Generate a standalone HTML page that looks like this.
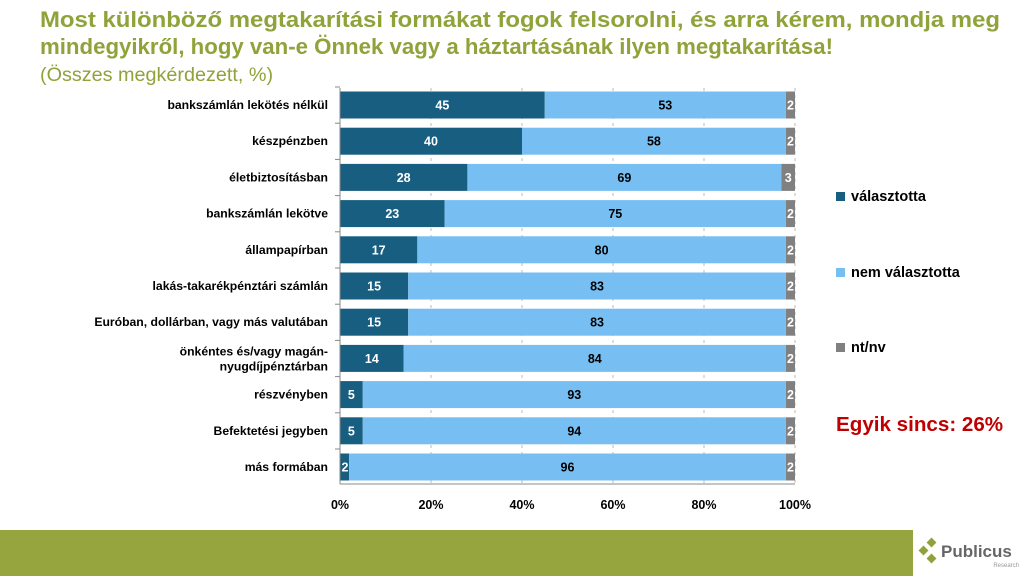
<!DOCTYPE html>
<html><head><meta charset="utf-8"><style>
body{margin:0;width:1024px;height:576px;overflow:hidden;background:#fff;font-family:"Liberation Sans",sans-serif}
</style></head><body>
<svg width="1024" height="576" xmlns="http://www.w3.org/2000/svg" font-family="Liberation Sans, sans-serif">
<text x="40" y="27" font-size="22.5" font-weight="bold" fill="#8FA33A" textLength="960" lengthAdjust="spacingAndGlyphs">Most különböző megtakarítási formákat fogok felsorolni, és arra kérem, mondja meg</text>
<text x="40" y="54" font-size="22.5" font-weight="bold" fill="#8FA33A" textLength="793" lengthAdjust="spacingAndGlyphs">mindegyikről, hogy van-e Önnek vagy a háztartásának ilyen megtakarítása!</text>
<text x="40" y="81" font-size="19.8" fill="#8FA33A">(Összes megkérdezett, %)</text>
<g stroke="#bbb" stroke-dasharray="3,4">
<line x1="431" y1="88" x2="431" y2="484"/><line x1="522" y1="88" x2="522" y2="484"/>
<line x1="613" y1="88" x2="613" y2="484"/><line x1="704" y1="88" x2="704" y2="484"/><line x1="795" y1="88" x2="795" y2="484"/>
</g>
<g id="bars"></g>
<line x1="340" y1="88" x2="340" y2="484" stroke="#888"/>
<line x1="340" y1="484" x2="795" y2="484" stroke="#888"/>
<g font-size="12.5" font-weight="bold" text-anchor="middle" fill="#000">
<text x="340" y="509">0%</text><text x="431" y="509">20%</text><text x="522" y="509">40%</text><text x="613" y="509">60%</text><text x="704" y="509">80%</text><text x="795" y="509">100%</text>
</g>
<rect x="836" y="192" width="9" height="9" fill="#175E80"/><text x="851" y="201" font-size="14.5" font-weight="bold">választotta</text>
<rect x="836" y="268" width="9" height="9" fill="#77BFF2"/><text x="851" y="277" font-size="14.5" font-weight="bold">nem választotta</text>
<rect x="836" y="343" width="9" height="9" fill="#808080"/><text x="851" y="352" font-size="14.5" font-weight="bold">nt/nv</text>
<text x="836" y="431" font-size="20.6" font-weight="bold" fill="#C00000">Egyik sincs: 26%</text>
<rect x="0" y="530" width="913" height="46" fill="#97A53E"/>
<g fill="#8FA33A"><rect x="928" y="539" width="7" height="7" transform="rotate(45 931.5 542.5)"/><rect x="920" y="547" width="7" height="7" transform="rotate(45 923.5 550.5)"/><rect x="928" y="555" width="7" height="7" transform="rotate(45 931.5 558.5)"/></g>
<text x="941" y="557" font-size="17" font-weight="bold" fill="#666">Publicus</text>
<text x="1019" y="567" font-size="6" fill="#999" text-anchor="end">Research</text>
</svg>
<script>
var d=[["bankszámlán lekötés nélkül",45,53,2],["készpénzben",40,58,2],["életbiztosításban",28,69,3],["bankszámlán lekötve",23,75,2],["állampapírban",17,80,2],["lakás-takarékpénztári számlán",15,83,2],["Euróban, dollárban, vagy más valutában",15,83,2],["önkéntes és/vagy magán-|nyugdíjpénztárban",14,84,2],["részvényben",5,93,2],["Befektetési jegyben",5,94,2],["más formában",2,96,2]];
var s="",X=function(p){return 340+p*4.55};
d.forEach(function(r,i){var c=105+36.2*i,y=c-13.5,h=27;
var a=r[1],g=r[3],gs=100-g;
s+='<rect x="'+X(0)+'" y="'+y+'" width="'+(a*4.55)+'" height="'+h+'" fill="#175E80"/>';
s+='<rect x="'+X(a)+'" y="'+y+'" width="'+((gs-a)*4.55)+'" height="'+h+'" fill="#77BFF2"/>';
s+='<rect x="'+X(gs)+'" y="'+y+'" width="'+(g*4.55)+'" height="'+h+'" fill="#808080"/>';
s+='<text x="'+(a<4?X(0)+5:X(a/2))+'" y="'+(c+4.5)+'" font-size="12.5" font-weight="bold" fill="#fff" text-anchor="middle">'+a+'</text>';
s+='<text x="'+X((a+gs)/2)+'" y="'+(c+4.5)+'" font-size="12.5" font-weight="bold" fill="#000" text-anchor="middle">'+r[2]+'</text>';
s+='<text x="'+X(gs+g/2)+'" y="'+(c+4.5)+'" font-size="12.5" font-weight="bold" fill="#fff" text-anchor="middle">'+g+'</text>';
var L=r[0].split("|");
if(L.length==1)s+='<text x="328" y="'+(c+4)+'" font-size="12.2" font-weight="bold" text-anchor="end">'+L[0]+'</text>';
else{s+='<text x="328" y="'+(c-3)+'" font-size="12.2" font-weight="bold" text-anchor="end">'+L[0]+'</text><text x="328" y="'+(c+12)+'" font-size="12.2" font-weight="bold" text-anchor="end">'+L[1]+'</text>';}
s+='<line x1="335" y1="'+(c-18)+'" x2="340" y2="'+(c-18)+'" stroke="#888"/>';
});
document.getElementById("bars").innerHTML=s;
</script>
</body></html>
